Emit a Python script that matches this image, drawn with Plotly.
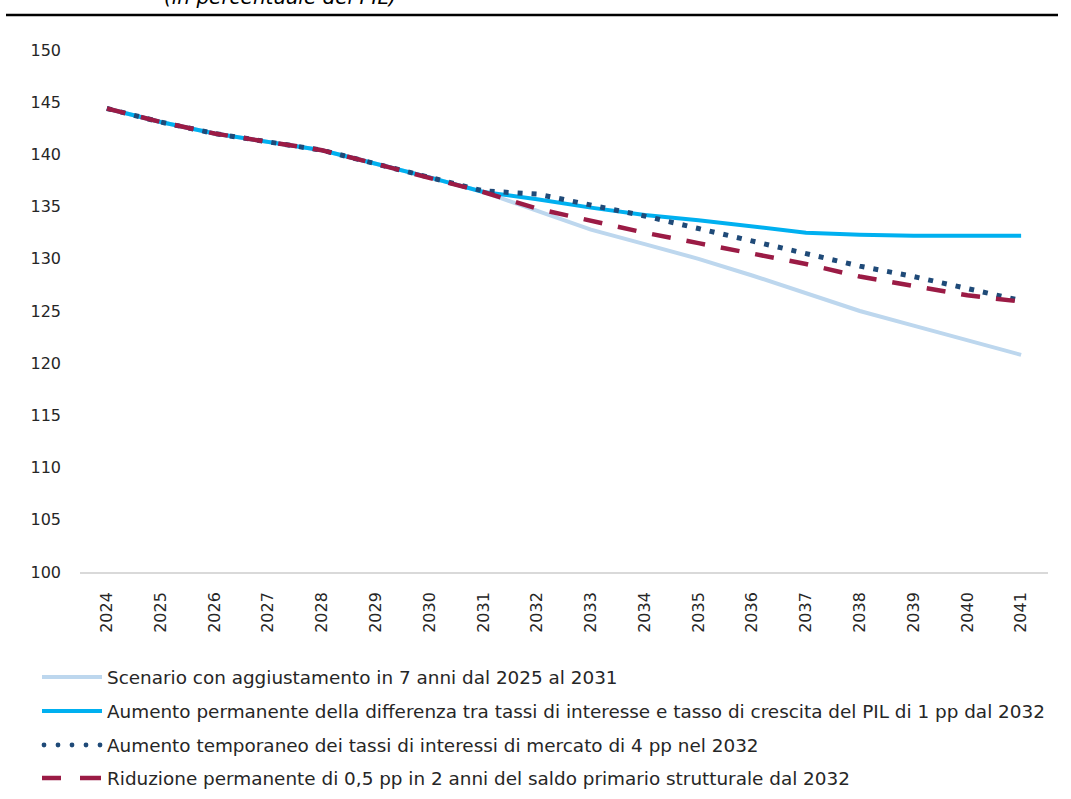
import plotly.graph_objects as go

# Anni di proiezione
anni = [str(a) for a in range(2024, 2042)]

# Rapporto debito/PIL (in percentuale del PIL) per scenario
scenario_base = [144.4, 143.1, 142.0, 141.2, 140.4, 139.1, 137.8, 136.4,
                 134.6, 132.8, 131.4, 130.0, 128.4, 126.7, 125.0, 123.6, 122.2, 120.8]
diff_tassi_crescita = [144.4, 143.1, 142.0, 141.2, 140.4, 139.1, 137.8, 136.4,
                       135.7, 134.9, 134.2, 133.7, 133.1, 132.5, 132.3, 132.2, 132.2, 132.2]
tassi_mercato = [144.4, 143.1, 142.0, 141.2, 140.4, 139.1, 137.8, 136.5,
                 136.2, 135.2, 134.1, 132.9, 131.7, 130.5, 129.3, 128.3, 127.1, 126.0]
saldo_primario = [144.4, 143.1, 142.0, 141.2, 140.4, 139.1, 137.8, 136.4,
                  134.8, 133.6, 132.5, 131.5, 130.5, 129.5, 128.3, 127.4, 126.5, 125.9]

nomi = [
    "Scenario con aggiustamento in 7 anni dal 2025 al 2031",
    "Aumento permanente della differenza tra tassi di interesse e tasso di crescita del PIL di 1 pp dal 2032",
    "Aumento temporaneo dei tassi di interessi di mercato di 4 pp nel 2032",
    "Riduzione permanente di 0,5 pp in 2 anni del saldo primario strutturale dal 2032",
]
valori = [scenario_base, diff_tassi_crescita, tassi_mercato, saldo_primario]
colori = ["#BDD7EE", "#00B0F0", "#1F4A78", "#9B1B45"]
spessori = [4, 4, 5, 4.5]
tratti = ["solid", "solid", "5px,9px", "19px,16px"]

W, H = 1071, 799
L, R, T, B = 80, 23, 50, 227
PW, PH = W - L - R, H - T - B

fig = go.Figure()
for nome, y, c, w, d in zip(nomi, valori, colori, spessori, tratti):
    fig.add_trace(go.Scatter(
        x=anni, y=y, name=nome, mode="lines",
        line=dict(color=c, width=w, dash=d),
        showlegend=False,
    ))


def px_x(px):
    return (px - L) / PW


def px_y(py):
    return (H - B - py) / PH


shapes = []
annotations = []

# Linea orizzontale sotto il titolo
shapes.append(dict(type="line", xref="paper", yref="paper",
                   x0=px_x(6), x1=px_x(1058), y0=px_y(15), y1=px_y(15),
                   line=dict(color="#000000", width=2.5)))

annotations.append(dict(
    text="<i>(in percentuale del PIL)</i>", xref="paper", yref="paper",
    x=px_x(162), y=px_y(11), xanchor="left", yanchor="bottom",
    showarrow=False, font=dict(family="DejaVu Sans", size=20, color="#000000"),
))

# Legenda disegnata sotto il grafico
righe = [677, 711, 745, 778]
for nome, c, w, d, ry in zip(nomi, colori, spessori, tratti, righe):
    if d == "5px,9px":
        for k in range(5):
            cx = 44 + k * 14
            shapes.append(dict(type="circle", xref="paper", yref="paper",
                               x0=px_x(cx - 2.4), x1=px_x(cx + 2.4),
                               y0=px_y(ry + 2.4), y1=px_y(ry - 2.4),
                               fillcolor=c, line=dict(width=0)))
    elif d == "19px,16px":
        for a, b in [(42, 61), (80, 101)]:
            shapes.append(dict(type="line", xref="paper", yref="paper",
                               x0=px_x(a), x1=px_x(b), y0=px_y(ry), y1=px_y(ry),
                               line=dict(color=c, width=w)))
    else:
        shapes.append(dict(type="line", xref="paper", yref="paper",
                           x0=px_x(42), x1=px_x(102), y0=px_y(ry), y1=px_y(ry),
                           line=dict(color=c, width=w)))
    annotations.append(dict(
        text=nome, xref="paper", yref="paper",
        x=px_x(105), y=px_y(ry), xanchor="left", yanchor="middle",
        showarrow=False,
        font=dict(family="DejaVu Sans", size=18.4, color="#262626"),
    ))

fig.update_layout(
    width=W, height=H,
    margin=dict(l=L, r=R, t=T, b=B),
    paper_bgcolor="white", plot_bgcolor="white",
    shapes=shapes, annotations=annotations,
    xaxis=dict(
        type="category", range=[-0.5, 17.5],
        showgrid=False, zeroline=False,
        showline=True, linecolor="#D9D9D9", linewidth=1.5,
        tickangle=-90, ticks="", ticklabelstandoff=12,
        tickfont=dict(family="DejaVu Sans", size=16, color="#262626"),
    ),
    yaxis=dict(
        range=[100, 150], tick0=100, dtick=5,
        showgrid=False, zeroline=False, showline=False,
        ticks="", ticklabelstandoff=18,
        tickfont=dict(family="DejaVu Sans", size=16, color="#262626"),
    ),
)

fig.write_html("out.html")
